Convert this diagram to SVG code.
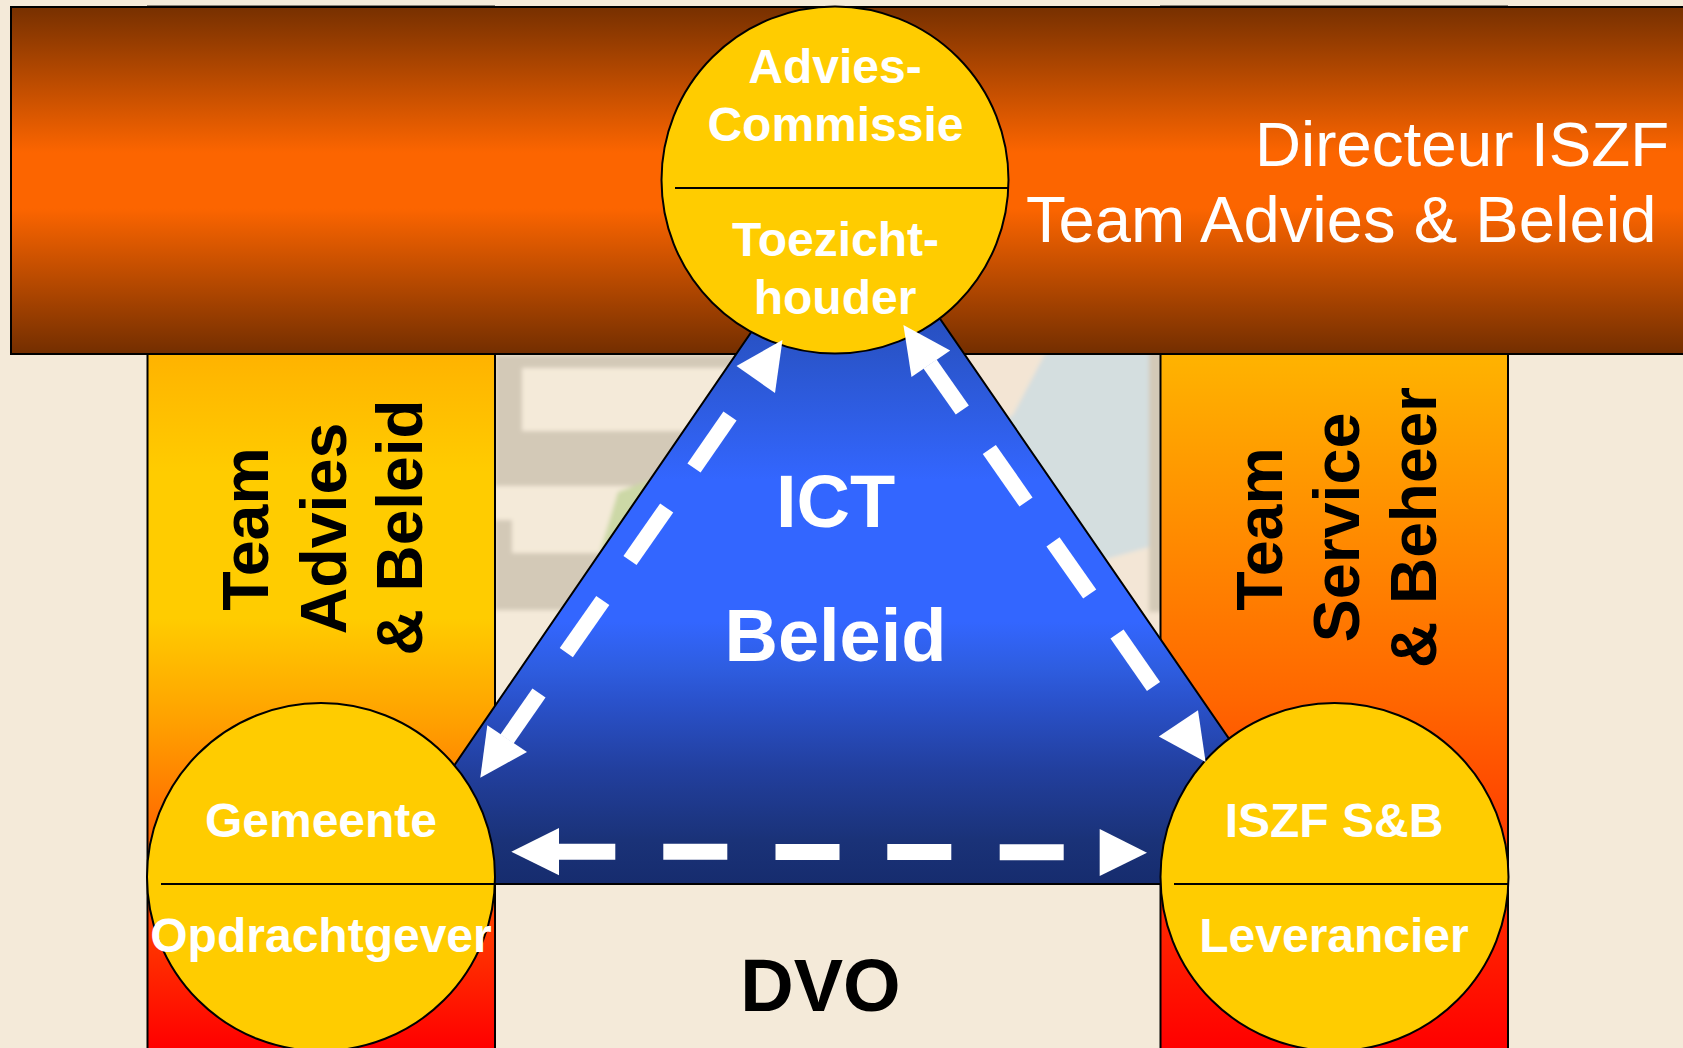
<svg xmlns="http://www.w3.org/2000/svg" width="1683" height="1048" viewBox="0 0 1683 1048">
<style>
.b{font-family:"Liberation Sans",Arial,sans-serif;font-weight:700}
.w{fill:#fff;text-anchor:middle;font-size:48px}
.big{font-size:74px;text-anchor:middle}
.r{font-family:"Liberation Sans",Arial,sans-serif;fill:#fff}
.v{font-size:64.500px;text-anchor:middle;fill:#000}
.ln{stroke:#000;stroke-width:2;fill:none}
.c{fill:#fc0;stroke:#000;stroke-width:2}
.d{stroke:#fff;stroke-width:16;fill:none}
.h{fill:#fff}
</style>
<defs>
<linearGradient id="bar" x1="0" y1="0" x2="0" y2="1">
<stop offset="0" stop-color="#773000"/><stop offset=".42" stop-color="#fc6500"/><stop offset=".58" stop-color="#fc6500"/><stop offset="1" stop-color="#732e00"/>
</linearGradient>
<linearGradient id="cl" gradientUnits="userSpaceOnUse" x1="0" y1="355" x2="0" y2="1048">
<stop offset="0" stop-color="#ffb300"/><stop offset=".17" stop-color="#fc0"/><stop offset=".38" stop-color="#fc0"/><stop offset=".53" stop-color="#ffa000"/><stop offset="1" stop-color="#f00"/>
</linearGradient>
<linearGradient id="cr" gradientUnits="userSpaceOnUse" x1="0" y1="355" x2="0" y2="1048">
<stop offset="0" stop-color="#ffb300"/><stop offset=".5" stop-color="#ff6600"/><stop offset="1" stop-color="#f00"/>
</linearGradient>
<linearGradient id="tri" gradientUnits="userSpaceOnUse" x1="0" y1="211" x2="0" y2="884">
<stop offset="0" stop-color="#1f3f9f"/><stop offset=".214" stop-color="#2a55cc"/><stop offset=".4" stop-color="#36f"/><stop offset=".61" stop-color="#36f"/><stop offset=".68" stop-color="#2e5de0"/><stop offset=".727" stop-color="#2a52cc"/><stop offset=".83" stop-color="#223f9e"/><stop offset=".935" stop-color="#1a3278"/><stop offset="1" stop-color="#162c6e"/>
</linearGradient>
<filter id="soft" x="-10%" y="-10%" width="120%" height="120%"><feGaussianBlur stdDeviation="2"/></filter>
</defs>
<rect width="1683" height="1048" fill="#f4ead9"/>
<g id="background" filter="url(#soft)">
<rect x="495" y="355" width="260" height="255" fill="#d3c9b7"/>
<rect x="522" y="368" width="210" height="63" fill="#f4ead9"/>
<rect x="480" y="486" width="32" height="34" fill="#f4ead9"/>
<rect x="512" y="486" width="140" height="67" fill="#f4ead9"/>
<polygon points="620,552 600,552 618,492 650,480 640,520" fill="#ccd8a6"/>
<rect x="960" y="350" width="200" height="260" fill="#d4dedf"/>
<polygon points="950,350 1047,350 1013,415 985,430" fill="#f3e5d4"/>
<polygon points="1085,565 1149,547 1160,547 1160,660 1100,660" fill="#f3e6d6"/>
<rect x="1149" y="350" width="14" height="262" fill="#d3c9b7"/>
</g>
<g id="team-advies-beleid">
<line x1="147" y1="5.500" x2="495" y2="5.500" stroke="#8a8478" stroke-width="1"/>
<rect x="147.500" y="7" width="347.500" height="1050" fill="url(#cl)" stroke="#000" stroke-width="2"/>
<g class="b v"><text transform="translate(268 529) rotate(-90)">Team</text><text transform="translate(345.500 528.500) rotate(-90)">Advies</text><text transform="translate(422 527.500) rotate(-90)" font-size="64">&amp; Beleid</text></g>
</g>
<g id="team-service-beheer">
<line x1="1160" y1="5.500" x2="1508" y2="5.500" stroke="#8a8478" stroke-width="1"/>
<rect x="1160.500" y="7" width="347.500" height="1050" fill="url(#cr)" stroke="#000" stroke-width="2"/>
<g class="b v"><text transform="translate(1282 529) rotate(-90)">Team</text><text transform="translate(1359 527.500) rotate(-90)">Service</text><text transform="translate(1436 527.500) rotate(-90)" style="font-size:64px">&amp; Beheer</text></g>
</g>
<g id="directeur-bar">
<rect x="11" y="7" width="1680" height="347" fill="url(#bar)" stroke="#000" stroke-width="2"/>
<text class="r" font-size="63.700" x="1255" y="165.500">Directeur ISZF</text>
<text class="r" font-size="65.200" x="1026" y="242">Team Advies &amp; Beleid</text>
</g>
<g id="ict-beleid">
<polygon points="850,188 1329,884 373,884" fill="url(#tri)" stroke="#000" stroke-width="2"/>
<text class="b big" fill="#fff" x="835.500" y="527">ICT</text>
<text class="b big" fill="#fff" x="835.500" y="661">Beleid</text>
</g>
<g id="dvo"><text class="b big" fill="#000" x="820.500" y="1011">DVO</text></g>
<g id="toezichthouder">
<circle class="c" cx="835" cy="180" r="173.500"/>
<line class="ln" x1="675" y1="188" x2="1009" y2="188"/>
<g class="b w"><text x="835" y="83">Advies-</text><text x="835.500" y="141">Commissie</text><text x="835.500" y="256">Toezicht-</text><text x="835" y="314">houder</text></g>
</g>
<g id="gemeente">
<circle class="c" cx="321" cy="877" r="174"/>
<line class="ln" x1="161" y1="884" x2="495" y2="884"/>
<g class="b w"><text x="321" y="837">Gemeente</text><text x="321" y="952">Opdrachtgever</text></g>
</g>
<g id="iszf-sb">
<circle class="c" cx="1334.500" cy="877" r="174"/>
<line class="ln" x1="1174" y1="884" x2="1508" y2="884"/>
<g class="b w"><text x="1334" y="837">ISZF S&amp;B</text><text x="1334" y="952">Leverancier</text></g>
</g>
<g id="connectors">
<g id="left-link">
<polygon class="h" points="782.500,340 736.500,366 775,393"/>
<line class="d" x1="730" y1="416" x2="694" y2="468"/>
<line class="d" x1="666.700" y1="508" x2="630" y2="560.500"/>
<line class="d" x1="602.800" y1="600.500" x2="566.300" y2="652.700"/>
<line class="d" x1="539" y1="693" x2="507" y2="739"/>
<polygon class="h" points="480.300,777.700 487.300,725.300 527,752"/>
</g>
<g id="right-link">
<polygon class="h" points="903.400,325 950.200,350.500 911.500,377"/>
<line class="d" x1="962.300" y1="410" x2="930" y2="364"/>
<line class="d" x1="989.300" y1="449.500" x2="1026" y2="502"/>
<line class="d" x1="1053" y1="541.800" x2="1089.700" y2="594"/>
<line class="d" x1="1117" y1="634" x2="1153.500" y2="686.500"/>
<polygon class="h" points="1205.600,762 1198,710.200 1158.800,736.400"/>
</g>
<g id="bottom-link">
<polygon class="h" points="511.300,851.700 559,828 559,875.300"/>
<line class="d" x1="555" y1="851.700" x2="615.300" y2="851.700"/>
<line class="d" x1="663.300" y1="851.800" x2="727.300" y2="851.800"/>
<line class="d" x1="775.500" y1="851.900" x2="839.500" y2="851.900"/>
<line class="d" x1="887.300" y1="852" x2="951.300" y2="852"/>
<line class="d" x1="999.700" y1="852.200" x2="1063.700" y2="852.200"/>
<polygon class="h" points="1147,852.800 1099.700,829 1099.700,876"/>
</g>
</g>
</svg>
